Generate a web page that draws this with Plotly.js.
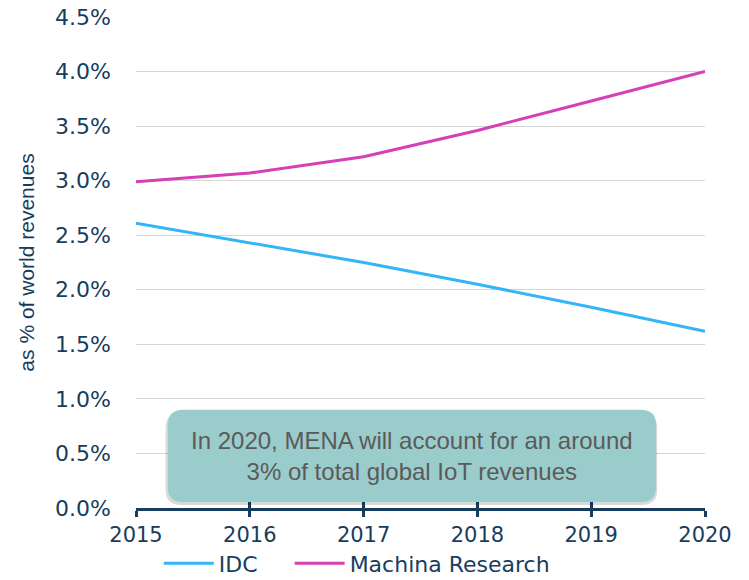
<!DOCTYPE html>
<html><head><meta charset="utf-8">
<script src="https://cdn.plot.ly/plotly-3.0.1.min.js"></script>
<style>body{margin:0;padding:0;background:#fff}#chart{width:749px;height:580px}</style>
</head><body><div id="chart"></div>
<script>
var years = [2015, 2016, 2017, 2018, 2019, 2020];
var idc = [2.61, 2.43, 2.25, 2.05, 1.84, 1.62];
var machina = [2.99, 3.07, 3.22, 3.46, 3.73, 4.00];
var yTickVals = [0, 0.5, 1, 1.5, 2, 2.5, 3, 3.5, 4, 4.5];
var yTickText = ['0.0%','0.5%','1.0%','1.5%','2.0%','2.5%','3.0%','3.5%','4.0%','4.5%'];
var note = 'In 2020, MENA will account for an around<br>3% of total global IoT revenues';

var navy = '#173d5e';
var wide = 'DejaVu Sans, Verdana, sans-serif';
var traces = [
  {x: years, y: idc, type: 'scatter', mode: 'lines', name: 'IDC', legend: 'legend', line: {color: '#33b5f7', width: 3}},
  {x: years, y: machina, type: 'scatter', mode: 'lines', name: 'Machina Research', legend: 'legend2', line: {color: '#d63fb5', width: 3}},
  {x: years, y: idc, type: 'scatter', mode: 'lines', xaxis: 'x2', showlegend: false, hoverinfo: 'skip', line: {color: 'rgba(0,0,0,0)', width: 0}}
];

function rr(x0, y0, x1, y1, rx, ry) {
  return 'M' + (x0 + rx) + ',' + y0 + ' L' + (x1 - rx) + ',' + y0 + ' Q' + x1 + ',' + y0 + ' ' + x1 + ',' + (y0 + ry) +
    ' L' + x1 + ',' + (y1 - ry) + ' Q' + x1 + ',' + y1 + ' ' + (x1 - rx) + ',' + y1 +
    ' L' + (x0 + rx) + ',' + y1 + ' Q' + x0 + ',' + y1 + ' ' + x0 + ',' + (y1 - ry) +
    ' L' + x0 + ',' + (y0 + ry) + ' Q' + x0 + ',' + y0 + ' ' + (x0 + rx) + ',' + y0 + ' Z';
}

var legendStyle = function (xpos) {
  return {orientation: 'h', x: xpos, xanchor: 'left', y: -0.07, yanchor: 'top', bgcolor: 'rgba(0,0,0,0)',
    font: {family: wide, size: 22, color: navy}, itemwidth: 50, tracegroupgap: 0};
};

var layout = {
  width: 749, height: 580,
  margin: {l: 136, r: 44, t: 17, b: 72, autoexpand: false},
  paper_bgcolor: '#fff', plot_bgcolor: '#fff',
  font: {family: wide, color: navy, size: 22},
  showlegend: true,
  legend: legendStyle(0.04),
  legend2: legendStyle(0.27),
  xaxis: {range: [2015, 2020], tickvals: years, ticktext: years.map(String), showgrid: false, zeroline: false,
    showline: true, linecolor: navy, linewidth: 3, ticks: 'outside', ticklen: 6, tickwidth: 3, tickcolor: navy,
    tickfont: {family: wide, size: 21, color: navy}, fixedrange: true},
  xaxis2: {range: [2015, 2020], overlaying: 'x', anchor: 'y', side: 'bottom', tickvals: years, showticklabels: false, showgrid: false,
    zeroline: false, showline: false, ticks: 'inside', ticklen: 7, tickwidth: 3, tickcolor: navy},
  yaxis: {range: [0, 4.5], tickvals: yTickVals, ticktext: yTickText, showgrid: true, gridcolor: '#d6d6d6', gridwidth: 1,
    zeroline: false, showline: false, ticks: '', ticklabelstandoff: 24, tickfont: {family: wide, size: 22, color: navy},
    title: {text: 'as % of world revenues', font: {family: 'Liberation Sans, Arial, sans-serif', size: 21, color: navy}, standoff: 14}},
  shapes: [
    {type: 'path', xref: 'paper', yref: 'paper', path: rr(0.052, 0.006, 0.916, 0.194, 0.027, 0.031), fillcolor: 'rgba(0,0,0,0.15)', line: {width: 0}, layer: 'above'},
    {type: 'path', xref: 'paper', yref: 'paper', path: rr(0.056, 0.012, 0.914, 0.2, 0.027, 0.031), fillcolor: '#9bcccc', line: {width: 0}, layer: 'above'}
  ],
  annotations: [
    {xref: 'paper', yref: 'paper', x: 0.485, y: 0.106, text: note, showarrow: false, xanchor: 'center', yanchor: 'middle',
      font: {family: 'Liberation Sans, Arial, sans-serif', size: 24, color: '#5a5a5a'}}
  ]
};
Plotly.newPlot('chart', traces, layout, {displayModeBar: false, staticPlot: true});
</script></body></html>
